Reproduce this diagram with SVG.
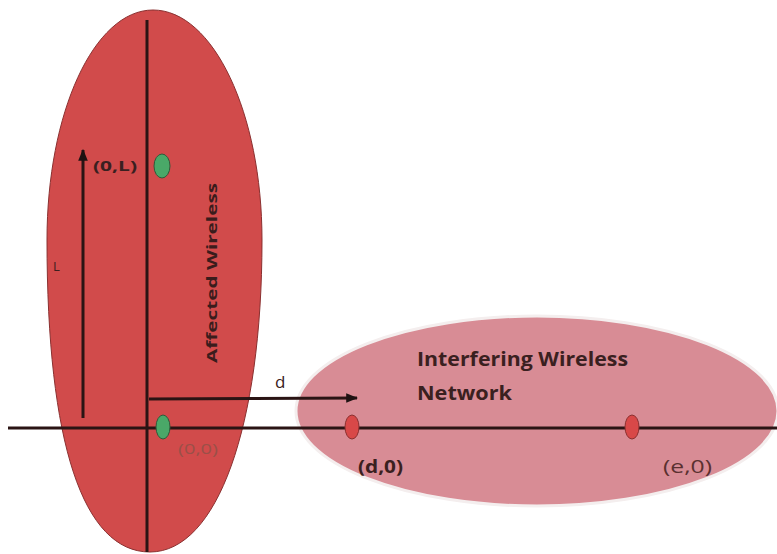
<svg xmlns="http://www.w3.org/2000/svg" width="777" height="554" viewBox="0 0 777 554">
  <defs>
    <style>
      .axis { stroke: #2a1414; stroke-width: 3; fill: none; }
      .lbl { font-family: "Open Sans", "Liberation Sans", sans-serif; fill: #3a2020; }
      .bold { font-weight: bold; }
    </style>
    <marker id="ah" viewBox="0 0 10 10" refX="9" refY="5" markerWidth="4" markerHeight="4" orient="auto">
      <path d="M0,1 L10,5 L0,9 Z" fill="#1e1212"/>
    </marker>
  </defs>
  <rect width="777" height="554" fill="#ffffff"/>

  <g id="affected-network">
    <!-- egg-shaped region: narrower crown, fuller lower body -->
    <path d="M47,240 C47,113 94,10 153,10 C213,10 262,113 262,240 C262,427 217,552 150,552 C83,552 47,443 47,240 Z"
          fill="#d14b4b" stroke="#8a3030" stroke-width="1"/>
    <text class="lbl bold" x="0" y="0" font-size="15" text-anchor="middle" textLength="180" lengthAdjust="spacingAndGlyphs" transform="translate(217,273) rotate(-90)" style="fill:#3a1c1c">Affected Wireless</text>
  </g>

  <g id="interfering-network">
    <ellipse cx="537" cy="411" rx="241" ry="95" fill="#d88c95" stroke="#f4eeee" stroke-width="3"/>
    <text class="lbl bold" x="417" y="366" font-size="19" textLength="211" lengthAdjust="spacingAndGlyphs">Interfering Wireless</text>
    <text class="lbl bold" x="417" y="400" font-size="19" textLength="95" lengthAdjust="spacingAndGlyphs">Network</text>
  </g>

  <g id="connectors">
    <line class="axis" x1="147" y1="20" x2="147" y2="552"/>
    <line class="axis" x1="8" y1="428" x2="777" y2="428"/>
    <line class="axis" x1="83" y1="418" x2="83" y2="150" marker-end="url(#ah)"/>
    <line class="axis" x1="149" y1="399" x2="357" y2="398" marker-end="url(#ah)"/>
    <text class="lbl" x="53" y="271" font-size="13">L</text>
    <text class="lbl" x="275" y="388" font-size="17">d</text>
  </g>

  <g id="point-0L">
    <ellipse cx="162" cy="166" rx="8" ry="12" fill="#4aa868" stroke="#2f5a3a" stroke-width="1"/>
    <text class="lbl bold" x="93" y="171" font-size="14" textLength="44" lengthAdjust="spacingAndGlyphs">(0,L)</text>
  </g>

  <g id="point-00">
    <ellipse cx="163" cy="427" rx="7" ry="12" fill="#4aa868" stroke="#2f5a3a" stroke-width="1"/>
    <text class="lbl" x="178" y="454" font-size="15" textLength="40" lengthAdjust="spacingAndGlyphs" style="fill:#9a5048">(0,0)</text>
  </g>

  <g id="point-d0">
    <ellipse cx="352" cy="427" rx="7" ry="12" fill="#d84848" stroke="#8a3030" stroke-width="1"/>
    <text class="lbl bold" x="358" y="473" font-size="18" textLength="45" lengthAdjust="spacingAndGlyphs">(d,0)</text>
  </g>

  <g id="point-e0">
    <ellipse cx="632" cy="427" rx="7" ry="12" fill="#d84848" stroke="#8a3030" stroke-width="1"/>
    <text class="lbl" x="663" y="473" font-size="18" textLength="49" lengthAdjust="spacingAndGlyphs" style="fill:#5a3030">(e,0)</text>
  </g>
</svg>
